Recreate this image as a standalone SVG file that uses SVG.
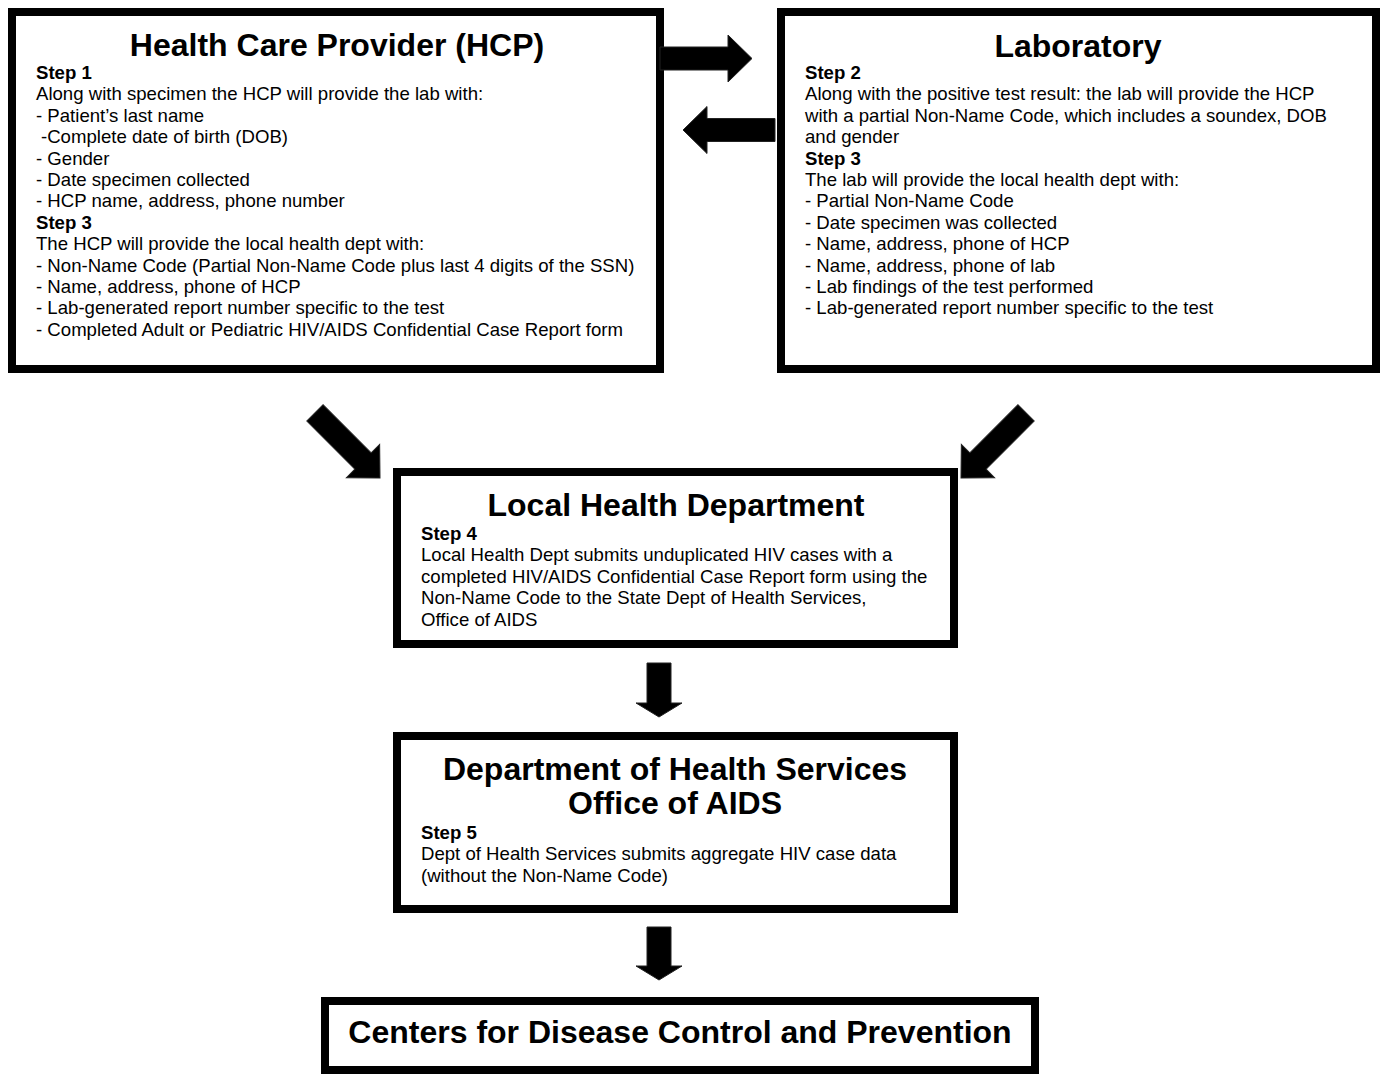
<svg xmlns="http://www.w3.org/2000/svg" width="1386" height="1074" viewBox="0 0 1386 1074">
<style>
.box{fill:#fff;stroke:#000;stroke-width:8}
.t{font-family:"Liberation Sans",Arial,sans-serif;font-weight:bold;font-size:32px;text-anchor:middle;fill:#000}
.b{font-family:"Liberation Sans",Arial,sans-serif;font-size:18.6px;fill:#000}
.s{font-weight:bold}
.arr{fill:#000;stroke:#222;stroke-width:1}
</style>
<defs>
<path id="da" d="M0,0 L-24,-23.5 L-24,-11.5 L-92,-11.5 L-92,11.5 L-24,11.5 L-24,23.5 Z"/>
</defs>
<g id="hcp">
<rect class="box" x="12" y="12" width="648" height="357"/>
<text class="t" x="337" y="56">Health Care Provider (HCP)</text>
<text class="b">
<tspan x="36" y="79" class="s">Step 1</tspan>
<tspan x="36" y="100.4">Along with specimen the HCP will provide the lab with:</tspan>
<tspan x="36" y="121.8">- Patient’s last name</tspan>
<tspan x="41" y="143.2">-Complete date of birth (DOB)</tspan>
<tspan x="36" y="164.6">- Gender</tspan>
<tspan x="36" y="186">- Date specimen collected</tspan>
<tspan x="36" y="207.4">- HCP name, address, phone number</tspan>
<tspan x="36" y="228.8" class="s">Step 3</tspan>
<tspan x="36" y="250.2">The HCP will provide the local health dept with:</tspan>
<tspan x="36" y="271.6">- Non-Name Code (Partial Non-Name Code plus last 4 digits of the SSN)</tspan>
<tspan x="36" y="293">- Name, address, phone of HCP</tspan>
<tspan x="36" y="314.4">- Lab-generated report number specific to the test</tspan>
<tspan x="36" y="335.8">- Completed Adult or Pediatric HIV/AIDS Confidential Case Report form</tspan>
</text>
</g>
<g id="lab">
<rect class="box" x="781" y="12" width="595" height="357"/>
<text class="t" x="1078" y="57">Laboratory</text>
<text class="b">
<tspan x="805" y="79" class="s">Step 2</tspan>
<tspan x="805" y="100.4">Along with the positive test result: the lab will provide the HCP</tspan>
<tspan x="805" y="121.8">with a partial Non-Name Code, which includes a soundex, DOB</tspan>
<tspan x="805" y="143.2">and gender</tspan>
<tspan x="805" y="164.6" class="s">Step 3</tspan>
<tspan x="805" y="186">The lab will provide the local health dept with:</tspan>
<tspan x="805" y="207.4">- Partial Non-Name Code</tspan>
<tspan x="805" y="228.8">- Date specimen was collected</tspan>
<tspan x="805" y="250.2">- Name, address, phone of HCP</tspan>
<tspan x="805" y="271.6">- Name, address, phone of lab</tspan>
<tspan x="805" y="293">- Lab findings of the test performed</tspan>
<tspan x="805" y="314.4">- Lab-generated report number specific to the test</tspan>
</text>
</g>
<g id="lhd">
<rect class="box" x="397" y="472" width="557" height="172"/>
<text class="t" x="676" y="516">Local Health Department</text>
<text class="b">
<tspan x="421" y="540" class="s">Step 4</tspan>
<tspan x="421" y="561.4">Local Health Dept submits unduplicated HIV cases with a</tspan>
<tspan x="421" y="582.8">completed HIV/AIDS Confidential Case Report form using the</tspan>
<tspan x="421" y="604.2">Non-Name Code to the State Dept of Health Services,</tspan>
<tspan x="421" y="625.6">Office of AIDS</tspan>
</text>
</g>
<g id="dhs">
<rect class="box" x="397" y="736" width="557" height="173"/>
<text class="t" x="675" y="780">Department of Health Services</text>
<text class="t" x="675" y="814">Office of AIDS</text>
<text class="b">
<tspan x="421" y="839" class="s">Step 5</tspan>
<tspan x="421" y="860.4">Dept of Health Services submits aggregate HIV case data</tspan>
<tspan x="421" y="881.8">(without the Non-Name Code)</tspan>
</text>
</g>
<g id="cdc">
<rect class="box" x="325" y="1001" width="710" height="69"/>
<text class="t" x="680" y="1043">Centers for Disease Control and Prevention</text>
</g>
<g id="connectors">
<use href="#da" class="arr" transform="translate(752,58.5)"/>
<use href="#da" class="arr" transform="translate(683,130) rotate(180)"/>
<use href="#da" class="arr" transform="translate(380,478) rotate(45)"/>
<use href="#da" class="arr" transform="translate(961,478) rotate(135)"/>
<path class="arr" d="M647,663 H671 V703 H682 L659,717 L636,703 H647 Z"/>
<path class="arr" d="M647,927 H671 V966 H682 L659,980 L636,966 H647 Z"/>
</g>
</svg>
